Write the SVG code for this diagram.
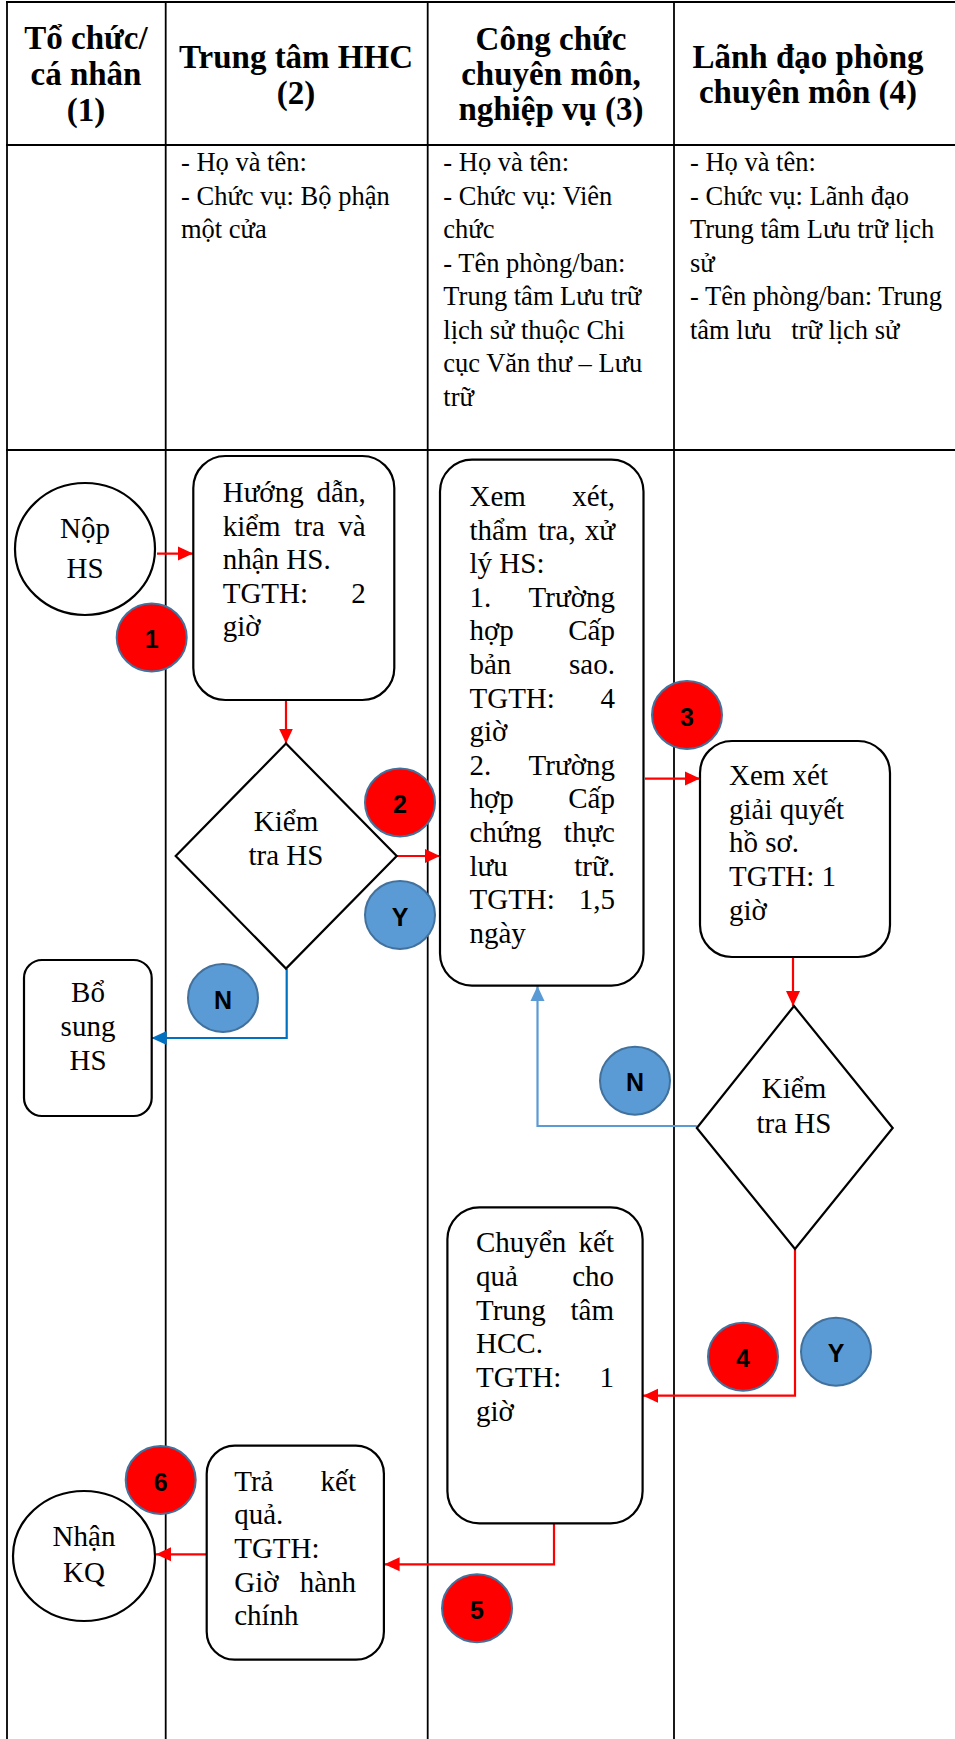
<svg xmlns="http://www.w3.org/2000/svg" width="955" height="1739" viewBox="0 0 955 1739">
<style>
.grid{stroke:#000;stroke-width:1.8;fill:none}
.box{fill:#fff;stroke:#000;stroke-width:2.2}
.h{font-weight:bold;font-size:33px;text-anchor:middle;fill:#000}
.i{font-size:26.5px;fill:#000;white-space:pre}
.t{font-size:29px;fill:#000}
.m{text-anchor:middle}
.e{text-anchor:end}
.red{fill:#FF0000;stroke:#41719C;stroke-width:2}
.blu{fill:#5B9BD5;stroke:#41719C;stroke-width:2}
.num{font-weight:bold;font-size:25px;text-anchor:middle;fill:#000}
.cr{stroke:#FF0000;stroke-width:2.2;fill:none;marker-end:url(#ar)}
.cb{stroke:#0070C0;stroke-width:2.2;fill:none;marker-end:url(#ab)}
.cl{stroke:#5B9BD5;stroke-width:2.2;fill:none;marker-end:url(#al)}
</style>
<defs>
<marker id="ar" viewBox="0 0 15 15" refX="15" refY="7.5" markerWidth="15" markerHeight="15" markerUnits="userSpaceOnUse" orient="auto"><path d="M0,0.5 L15,7.5 L0,14.5 z" fill="#FF0000"/></marker>
<marker id="ab" viewBox="0 0 15 15" refX="15" refY="7.5" markerWidth="15" markerHeight="15" markerUnits="userSpaceOnUse" orient="auto"><path d="M0,0.5 L15,7.5 L0,14.5 z" fill="#0070C0"/></marker>
<marker id="al" viewBox="0 0 15 15" refX="15" refY="7.5" markerWidth="15" markerHeight="15" markerUnits="userSpaceOnUse" orient="auto"><path d="M0,0.5 L15,7.5 L0,14.5 z" fill="#5B9BD5"/></marker>
</defs>
<rect x="0" y="0" width="955" height="1739" fill="#fff"/>

<g id="table" class="grid">
<line x1="6" y1="2" x2="955" y2="2"/>
<line x1="6" y1="145" x2="955" y2="145"/>
<line x1="6" y1="450" x2="955" y2="450"/>
<line x1="7" y1="1" x2="7" y2="1739"/>
<line x1="165.7" y1="1" x2="165.7" y2="1739"/>
<line x1="427.7" y1="1" x2="427.7" y2="1739"/>
<line x1="674" y1="1" x2="674" y2="1739"/>
</g>

<g id="headers" font-family="Liberation Serif">
<text class="h" x="86" y="49">Tổ chức/</text>
<text class="h" x="86" y="85">cá nhân</text>
<text class="h" x="86" y="121">(1)</text>
<text class="h" x="296" y="68">Trung tâm HHC</text>
<text class="h" x="296" y="103.5">(2)</text>
<text class="h" x="551" y="49.5">Công chức</text>
<text class="h" x="551" y="85">chuyên môn,</text>
<text class="h" x="551" y="120">nghiệp vụ (3)</text>
<text class="h" x="808" y="68">Lãnh đạo phòng</text>
<text class="h" x="808" y="103">chuyên môn (4)</text>
</g>

<g id="info" font-family="Liberation Serif">
<text class="i" x="181" y="171">- Họ và tên:</text>
<text class="i" x="181" y="204.5">- Chức vụ: Bộ phận</text>
<text class="i" x="181" y="238">một cửa</text>
<text class="i" x="443.3" y="171">- Họ và tên:</text>
<text class="i" x="443.3" y="204.5">- Chức vụ: Viên</text>
<text class="i" x="443.3" y="238">chức</text>
<text class="i" x="443.3" y="271.5">- Tên phòng/ban:</text>
<text class="i" x="443.3" y="305">Trung tâm Lưu trữ</text>
<text class="i" x="443.3" y="338.5">lịch sử thuộc Chi</text>
<text class="i" x="443.3" y="372">cục Văn thư – Lưu</text>
<text class="i" x="443.3" y="405.5">trữ</text>
<text class="i" x="690" y="171">- Họ và tên:</text>
<text class="i" x="690" y="204.5">- Chức vụ: Lãnh đạo</text>
<text class="i" x="690" y="238">Trung tâm Lưu trữ lịch</text>
<text class="i" x="690" y="271.5">sử</text>
<text class="i" x="690" y="305">- Tên phòng/ban: Trung</text>
<text class="i" x="690" y="338.5" xml:space="preserve">tâm lưu   trữ lịch sử</text>
</g>

<g id="connectors">
<line class="cr" x1="157" y1="553.6" x2="193" y2="553.6"/>
<line class="cr" x1="286" y1="701" x2="286" y2="743.6"/>
<line class="cr" x1="396.7" y1="856" x2="440" y2="856"/>
<line class="cr" x1="645" y1="778.6" x2="700" y2="778.6"/>
<line class="cr" x1="793" y1="957" x2="793" y2="1006"/>
<polyline class="cr" points="795,1249 795,1395.7 643,1395.7"/>
<polyline class="cr" points="554,1523.3 554,1564.3 384.6,1564.3"/>
<line class="cr" x1="206.7" y1="1554.3" x2="156" y2="1554.3"/>
<polyline class="cb" points="286.7,969 286.7,1038 151.7,1038"/>
<polyline class="cl" points="696.8,1126 537.5,1126 537.5,986"/>
</g>

<g id="nodes" font-family="Liberation Serif">
<g id="n-nop">
<ellipse class="box" cx="85" cy="549" rx="70" ry="66"/>
<text class="t m" x="85" y="538">Nộp</text>
<text class="t m" x="85" y="577.5">HS</text>
</g>

<g id="n-huongdan">
<rect class="box" x="193.3" y="456" width="201" height="244" rx="32" ry="32"/>
<text class="t" x="222.7" y="502">Hướng</text><text class="t e" x="365.7" y="502">dẫn,</text>
<text class="t" x="222.7" y="535.5">kiểm</text><text class="t m" x="309.5" y="535.5">tra</text><text class="t e" x="365.7" y="535.5">và</text>
<text class="t" x="222.7" y="569">nhận HS.</text>
<text class="t" x="222.7" y="602.5">TGTH:</text><text class="t e" x="365.7" y="602.5">2</text>
<text class="t" x="222.7" y="636">giờ</text>
</g>

<g id="n-kiemtra1">
<polygon class="box" points="286,743.6 396.7,856 286,968.6 175.7,856"/>
<text class="t m" x="286" y="831">Kiểm</text>
<text class="t m" x="286" y="865">tra HS</text>
</g>

<g id="n-bosung">
<rect class="box" x="24" y="960" width="127.7" height="156" rx="18" ry="18"/>
<text class="t m" x="88" y="1002">Bổ</text>
<text class="t m" x="88" y="1036">sung</text>
<text class="t m" x="88" y="1069.5">HS</text>
</g>

<g id="n-xemxet">
<rect class="box" x="440" y="459.6" width="203.5" height="526" rx="32" ry="32"/>
<text class="t" x="469.5" y="506">Xem</text><text class="t e" x="615" y="506">xét,</text>
<text class="t" x="469.5" y="539.6">thẩm</text><text class="t" x="537.9" y="539.6">tra,</text><text class="t e" x="615" y="539.6">xử</text>
<text class="t" x="469.5" y="573.2">lý HS:</text>
<text class="t" x="469.5" y="606.8">1.</text><text class="t e" x="615" y="606.8">Trường</text>
<text class="t" x="469.5" y="640.4">hợp</text><text class="t e" x="615" y="640.4">Cấp</text>
<text class="t" x="469.5" y="674">bản</text><text class="t e" x="615" y="674">sao.</text>
<text class="t" x="469.5" y="707.6">TGTH:</text><text class="t e" x="615" y="707.6">4</text>
<text class="t" x="469.5" y="741.2">giờ</text>
<text class="t" x="469.5" y="774.8">2.</text><text class="t e" x="615" y="774.8">Trường</text>
<text class="t" x="469.5" y="808.4">hợp</text><text class="t e" x="615" y="808.4">Cấp</text>
<text class="t" x="469.5" y="842">chứng</text><text class="t e" x="615" y="842">thực</text>
<text class="t" x="469.5" y="875.6">lưu</text><text class="t e" x="615" y="875.6">trữ.</text>
<text class="t" x="469.5" y="909.2">TGTH:</text><text class="t e" x="615" y="909.2">1,5</text>
<text class="t" x="469.5" y="942.8">ngày</text>
</g>

<g id="n-giaiquyet">
<rect class="box" x="700" y="741" width="190" height="216" rx="32" ry="32"/>
<text class="t" x="729" y="785">Xem xét</text>
<text class="t" x="729" y="818.5">giải quyết</text>
<text class="t" x="729" y="852">hồ sơ.</text>
<text class="t" x="729" y="886">TGTH: 1</text>
<text class="t" x="729" y="919.5">giờ</text>
</g>

<g id="n-kiemtra2">
<polygon class="box" points="794,1006 892.7,1128 795,1249 696.8,1128"/>
<text class="t m" x="794" y="1098">Kiểm</text>
<text class="t m" x="794" y="1133">tra HS</text>
</g>

<g id="n-chuyen">
<rect class="box" x="447.4" y="1207.3" width="195.2" height="316" rx="32" ry="32"/>
<text class="t" x="476" y="1252">Chuyển</text><text class="t e" x="614" y="1252">kết</text>
<text class="t" x="476" y="1286">quả</text><text class="t e" x="614" y="1286">cho</text>
<text class="t" x="476" y="1319.5">Trung</text><text class="t e" x="614" y="1319.5">tâm</text>
<text class="t" x="476" y="1353">HCC.</text>
<text class="t" x="476" y="1387">TGTH:</text><text class="t e" x="614" y="1387">1</text>
<text class="t" x="476" y="1420.5">giờ</text>
</g>

<g id="n-tra">
<rect class="box" x="206.7" y="1445.7" width="177.2" height="214" rx="28" ry="28"/>
<text class="t" x="234.2" y="1491">Trả</text><text class="t e" x="356" y="1491">kết</text>
<text class="t" x="234.2" y="1524">quả.</text>
<text class="t" x="234.2" y="1557.5">TGTH:</text>
<text class="t" x="234.2" y="1591.5">Giờ</text><text class="t e" x="356" y="1591.5">hành</text>
<text class="t" x="234.2" y="1625">chính</text>
</g>

<g id="n-nhan">
<ellipse class="box" cx="84" cy="1556" rx="71" ry="65"/>
<text class="t m" x="84" y="1546">Nhận</text>
<text class="t m" x="84" y="1582">KQ</text>
</g>
</g>

<g id="badges" font-family="Liberation Sans">
<g id="b1"><ellipse class="red" cx="151.7" cy="637.5" rx="35" ry="34"/><text class="num" x="151.7" y="648">1</text></g>
<g id="b2"><ellipse class="red" cx="400" cy="802.5" rx="35" ry="34"/><text class="num" x="400" y="813">2</text></g>
<g id="bY1"><ellipse class="blu" cx="400" cy="915" rx="35" ry="34"/><text class="num" x="400" y="925.5">Y</text></g>
<g id="bN1"><ellipse class="blu" cx="223" cy="998" rx="35" ry="34"/><text class="num" x="223" y="1008.5">N</text></g>
<g id="b3"><ellipse class="red" cx="687" cy="715" rx="35" ry="34"/><text class="num" x="687" y="725.5">3</text></g>
<g id="bN2"><ellipse class="blu" cx="635" cy="1080.7" rx="35" ry="34"/><text class="num" x="635" y="1091">N</text></g>
<g id="b4"><ellipse class="red" cx="743" cy="1356.7" rx="35" ry="34"/><text class="num" x="743" y="1367">4</text></g>
<g id="bY2"><ellipse class="blu" cx="836" cy="1351.7" rx="35" ry="34"/><text class="num" x="836" y="1362">Y</text></g>
<g id="b5"><ellipse class="red" cx="477" cy="1608.3" rx="35" ry="34"/><text class="num" x="477" y="1618.8">5</text></g>
<g id="b6"><ellipse class="red" cx="160.7" cy="1480" rx="35" ry="34"/><text class="num" x="160.7" y="1490.5">6</text></g>
</g>
</svg>
